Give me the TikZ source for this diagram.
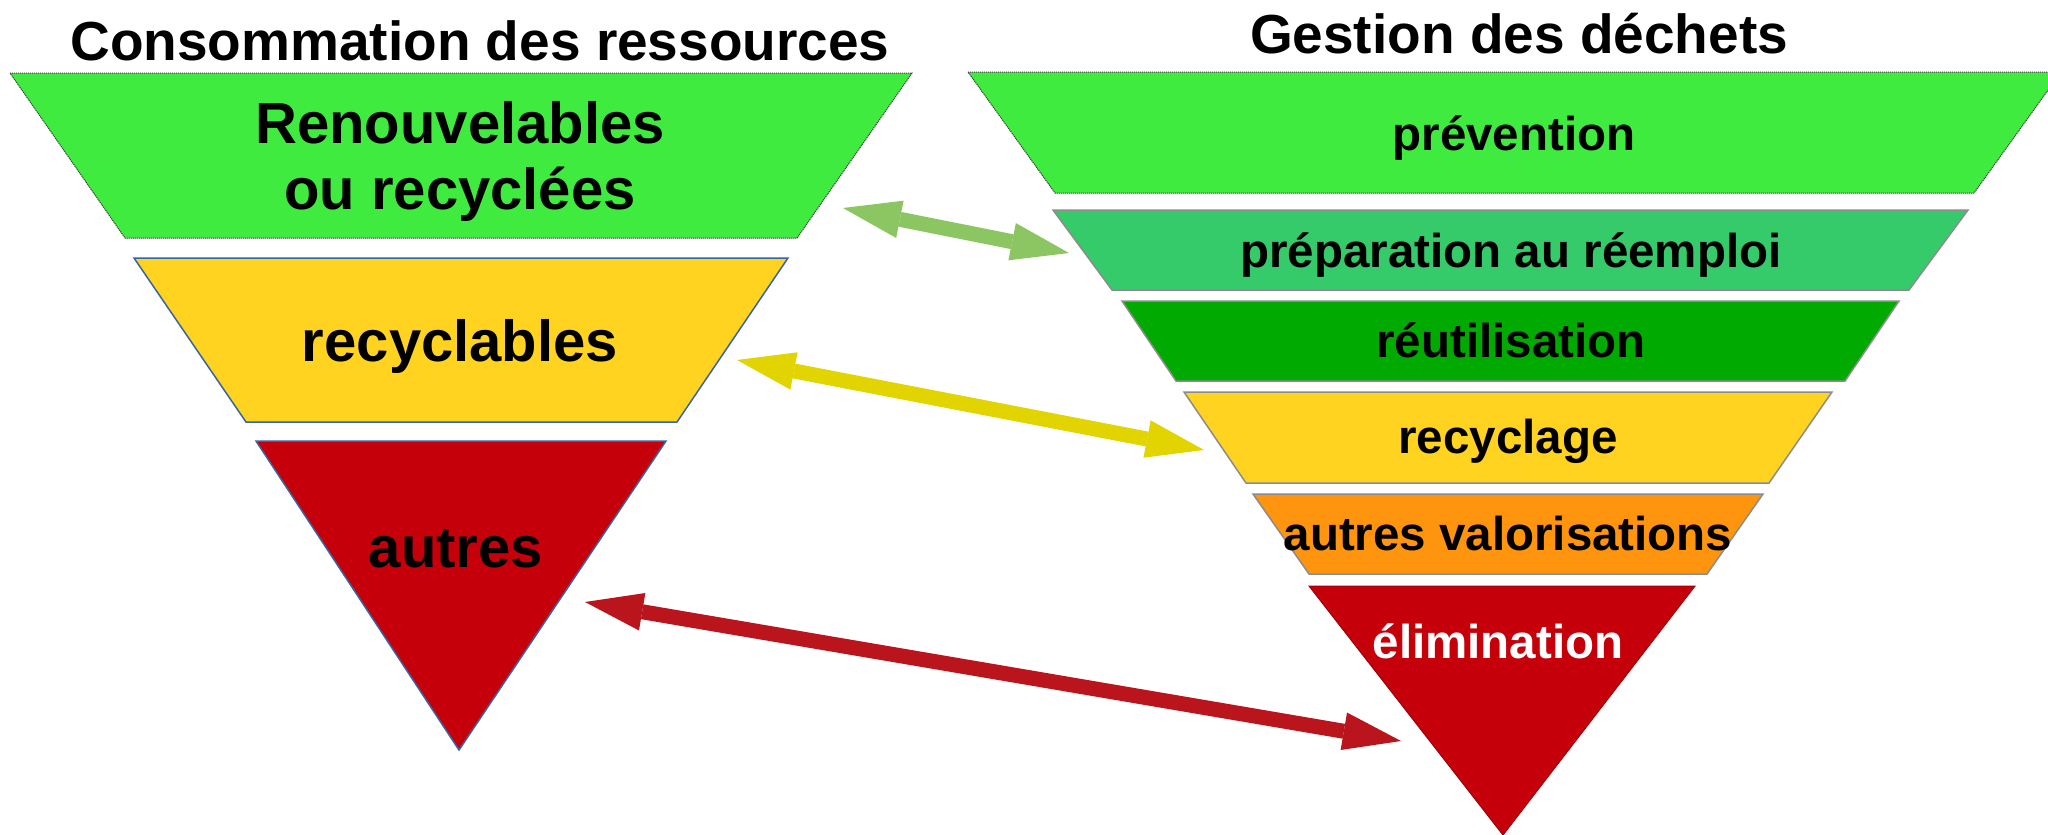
\documentclass[tikz,border=0pt]{standalone}
\usepackage{fontspec}
\setmainfont{Liberation Sans}
\usetikzlibrary{arrows.meta}
\definecolor{cgreen}{RGB}{64,235,64}
\definecolor{cprep}{RGB}{54,203,106}
\definecolor{creut}{RGB}{0,170,0}
\definecolor{cyellow}{RGB}{255,211,32}
\definecolor{corange}{RGB}{255,149,14}
\definecolor{cred}{RGB}{197,0,11}
\definecolor{cblue}{RGB}{52,101,164}
\definecolor{agreen}{RGB}{140,198,98}
\definecolor{ayellow}{RGB}{226,212,0}
\definecolor{ared}{RGB}{186,20,28}
\tikzset{
  bigtri/.tip={Triangle[length=58pt,width=38pt,line width=0pt]},
  dblarrow/.style={line width=15pt, bigtri-bigtri},
  dotbox/.style={draw=black!75, line width=1pt, dash pattern=on 1.2pt off 0.8pt},
  bluebox/.style={draw=cblue, line width=1.5pt},
  graybox/.style={draw=black!45, line width=1.5pt},
  titletxt/.style={anchor=base, inner sep=0pt, font=\bfseries\fontsize{55pt}{60pt}\selectfont},
  bigtxt/.style={anchor=base, inner sep=0pt, font=\bfseries\fontsize{58pt}{62pt}\selectfont},
  midtxt/.style={anchor=base, inner sep=0pt, font=\bfseries\fontsize{47.5pt}{52pt}\selectfont},
}
\begin{document}
\begin{tikzpicture}[x=1pt,y=-1pt]
\useasboundingbox (0,0) rectangle (2048,835);
\fill[white] (0,0) rectangle (2048,835);

% titles
\node[titletxt] (t1) at (480,60) {Consommation des ressources};
\node[titletxt] (t2) at (1519,53) {Gestion des déchets};

% left pyramid
\path[fill=cgreen, dotbox] (10,73) -- (912,73) -- (797,238) -- (125,238) -- cycle;
\path[fill=cyellow, bluebox] (134,258) -- (788,258) -- (677,422) -- (246,422) -- cycle;
\path[fill=cred, bluebox] (256,441) -- (666,441) -- (459,750) -- cycle;

\node[bigtxt] (l1a) at (460,143) {Renouvelables};
\node[bigtxt] (l1b) at (460,209) {ou recyclées};
\node[bigtxt] (l2) at (460,361) {recyclables};
\node[bigtxt] (l3) at (456,567) {autres};

% right pyramid
\path[fill=cgreen, dotbox] (968,72) -- (2061,72) -- (1974,193) -- (1055,193) -- cycle;
\path[fill=cprep, graybox] (1053,210) -- (1968,210) -- (1909,290) -- (1112,290) -- cycle;
\path[fill=creut, graybox] (1122,301) -- (1899,301) -- (1845,381) -- (1176,381) -- cycle;
\path[fill=cyellow, graybox] (1184,392) -- (1832,392) -- (1769,483) -- (1246,483) -- cycle;
\path[fill=corange, graybox] (1253,494) -- (1763,494) -- (1707,574) -- (1309,574) -- cycle;
\path[fill=cred, draw=cred!80!black, line width=1pt] (1309,586) -- (1695,586) -- (1503,835) -- cycle;

\node[midtxt] (r1) at (1514,150) {prévention};
\node[midtxt] (r2) at (1511,267) {préparation au réemploi};
\node[midtxt] (r3) at (1511,357) {réutilisation};
\node[midtxt] (r4) at (1508,453) {recyclage};
\node[midtxt] (r5) at (1508,550) {autres valorisations};
\node[midtxt, text=white] (r6) at (1498,658) {élimination};

% arrows
\coordinate (ga) at (843,208);
\coordinate (gb) at (1069,253);
\coordinate (ya) at (737,360);
\coordinate (yb) at (1204,450);
\coordinate (ra) at (585,602);
\coordinate (rb) at (1401,741);
\draw[dblarrow, agreen] (ga) -- (gb);
\draw[dblarrow, ayellow] (ya) -- (yb);
\draw[dblarrow, ared] (ra) -- (rb);
\end{tikzpicture}
\end{document}
